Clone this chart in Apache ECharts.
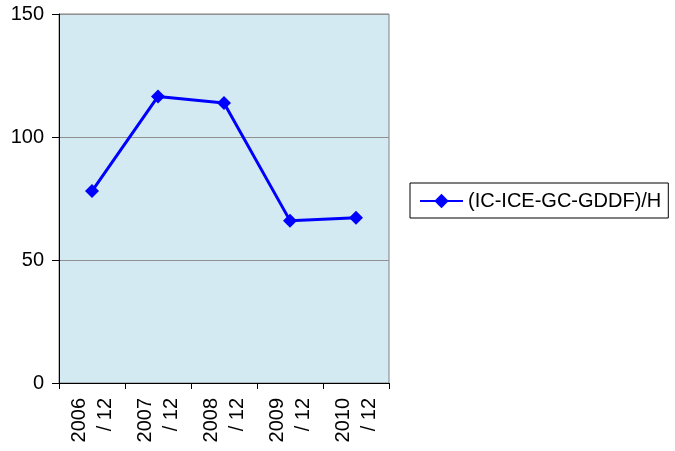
<!DOCTYPE html>
<html><head><meta charset="utf-8">
<script src="https://cdn.jsdelivr.net/npm/echarts@6/dist/echarts.min.js"></script>
<style>html,body{margin:0;padding:0;background:#fff}#c{width:675px;height:451px}</style>
</head><body><div id="c"></div>
<script>
var categories = ['2006\n/ 12','2007\n/ 12','2008\n/ 12','2009\n/ 12','2010\n/ 12'];
var seriesName = '(IC-ICE-GC-GDDF)/H';
var values = [78, 116.5, 113.8, 66, 67.2];
var yTicks = [0, 50, 100, 150];

var chart = echarts.init(document.getElementById('c'));
chart.setOption({
  animation: false,
  backgroundColor: '#ffffff',
  grid: {left: 59, top: 14, width: 330, height: 369, show: true,
         backgroundColor: '#d3eaf2', borderColor: '#808080', borderWidth: 1},
  legend: {
    left: 410, top: 183, orient: 'vertical',
    data: [seriesName],
    borderColor: '#000', borderWidth: 1, padding: [8, 7, 7, 9],
    itemWidth: 43, itemHeight: 18, itemGap: 6,
    textStyle: {fontFamily: 'Liberation Sans', fontSize: 20, color: '#000'}
  },
  xAxis: {
    type: 'category', data: categories, boundaryGap: true,
    axisLine: {lineStyle: {color: '#000', width: 1}},
    axisTick: {show: true, interval: 0, length: 6, lineStyle: {color: '#000'}},
    axisLabel: {interval: 0, rotate: 90, margin: 15, fontFamily: 'Liberation Sans',
                fontSize: 20, color: '#000', lineHeight: 26}
  },
  yAxis: {
    type: 'value', min: yTicks[0], max: yTicks[yTicks.length-1], interval: 50,
    axisLine: {show: true, lineStyle: {color: '#000', width: 1}},
    axisTick: {show: true, length: 7, lineStyle: {color: '#000'}},
    axisLabel: {margin: 15, fontFamily: 'Liberation Sans', fontSize: 20, color: '#000'},
    splitLine: {show: true, lineStyle: {color: '#909090', width: 1}}
  },
  series: [{
    name: seriesName, type: 'line', data: values,
    symbol: 'diamond', symbolSize: 14,
    lineStyle: {color: '#0000ff', width: 3},
    itemStyle: {color: '#0000ff'}
  }]
});
</script></body></html>
